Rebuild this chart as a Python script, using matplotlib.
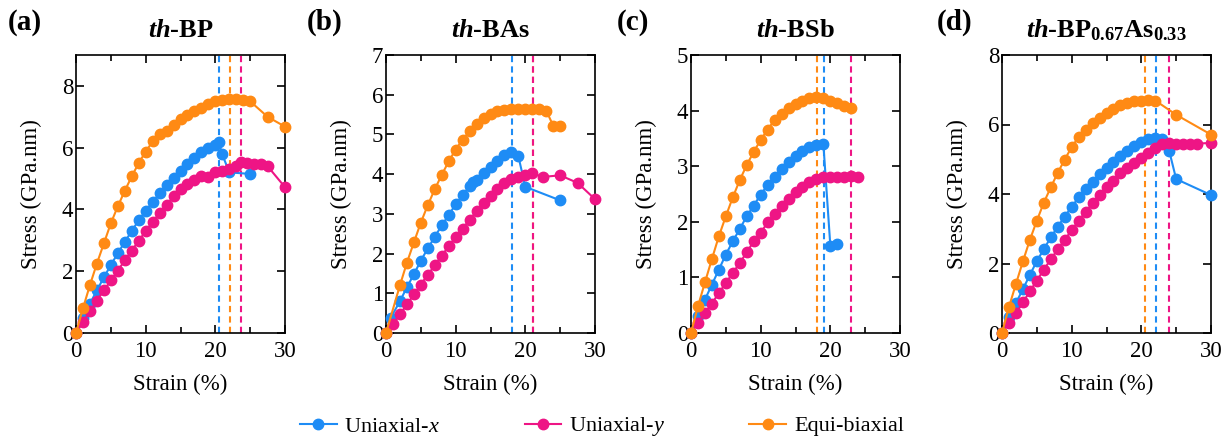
import matplotlib
matplotlib.use("Agg")
import matplotlib.pyplot as plt
from matplotlib.ticker import MultipleLocator

SERIF = 'Liberation Serif'
plt.rcParams['font.family'] = 'serif'
plt.rcParams['font.serif'] = [SERIF, 'DejaVu Serif']
plt.rcParams['mathtext.fontset'] = 'custom'
plt.rcParams['mathtext.rm'] = SERIF
plt.rcParams['mathtext.it'] = SERIF + ':italic'
plt.rcParams['mathtext.bf'] = SERIF + ':bold'
plt.rcParams['mathtext.bfit'] = SERIF + ':italic:bold'

blue = '#1E8CF5'
pink = '#EE1585'
orange = '#FF8A14'

# ---- (a) th-BP ----
a_x_x = [0, 1, 2, 3, 4, 5, 6, 7, 8, 9, 10, 11, 12, 13, 14, 15, 16, 17, 18, 19, 20, 20.5, 21, 22, 25]
a_x_y = [0, 0.5, 0.95, 1.38, 1.8, 2.2, 2.58, 2.95, 3.3, 3.65, 3.95, 4.25, 4.52, 4.78, 5.02, 5.25, 5.47,
         5.67, 5.85, 6.0, 6.1, 6.17, 5.78, 5.2, 5.15]
a_y_x = [0, 1, 2, 3, 4, 5, 6, 7, 8, 9, 10, 11, 12, 13, 14, 15, 16, 17, 18, 19, 20, 21, 22, 23, 23.7,
         24.5, 25.5, 26.5, 27.5, 30]
a_y_y = [0, 0.35, 0.7, 1.05, 1.38, 1.7, 2.02, 2.35, 2.67, 2.98, 3.3, 3.6, 3.88, 4.15, 4.42, 4.65, 4.82,
         4.95, 5.08, 5.05, 5.2, 5.25, 5.3, 5.42, 5.52, 5.5, 5.48, 5.47, 5.4, 4.72]
a_b_x = [0, 1, 2, 3, 4, 5, 6, 7, 8, 9, 10, 11, 12, 13, 14, 15, 16, 17, 18, 19, 20, 21, 22, 23, 24, 25,
         27.5, 30]
a_b_y = [0, 0.8, 1.55, 2.25, 2.9, 3.55, 4.1, 4.6, 5.07, 5.5, 5.87, 6.2, 6.45, 6.55, 6.75, 6.92, 7.05,
         7.18, 7.3, 7.4, 7.5, 7.55, 7.58, 7.58, 7.55, 7.5, 7.0, 6.68]
a_crit = [20.5, 23.7, 22.1]

# ---- (b) th-BAs ----
b_x_x = [0, 0.7, 2, 3, 4, 5, 6, 7, 8, 9, 10, 11, 12, 12.5, 13, 14, 15, 16, 17, 18, 19, 20, 25]
b_x_y = [0, 0.39, 0.8, 1.15, 1.48, 1.82, 2.13, 2.42, 2.71, 2.97, 3.24, 3.47, 3.7, 3.8, 3.86, 4.03,
         4.18, 4.33, 4.47, 4.57, 4.45, 3.68, 3.34]
b_y_x = [0, 1, 2, 3, 4, 5, 6, 7, 8, 9, 10, 11, 12, 13, 14, 15, 16, 17, 18, 19, 20, 21, 22.5, 25,
         27.5, 30]
b_y_y = [0, 0.22, 0.47, 0.72, 0.97, 1.22, 1.47, 1.7, 1.95, 2.18, 2.42, 2.63, 2.85, 3.07, 3.27, 3.45,
         3.62, 3.77, 3.88, 3.93, 3.98, 4.02, 3.93, 3.97, 3.78, 3.37]
b_b_x = [0, 2, 3, 4, 5, 6, 7, 8, 9, 10, 11, 12, 13, 14, 15, 16, 17, 18, 19, 20, 21, 22, 23, 24, 25]
b_b_y = [0, 1.2, 1.77, 2.28, 2.78, 3.22, 3.62, 3.98, 4.32, 4.62, 4.87, 5.08, 5.27, 5.42, 5.52, 5.58,
         5.62, 5.65, 5.63, 5.64, 5.65, 5.64, 5.6, 5.22, 5.2]
b_crit = [18.1, 21.1, 21.1]

# ---- (c) th-BSb ----
c_x_x = [0, 1, 2, 3, 4, 5, 6, 7, 8, 9, 10, 11, 12, 13, 14, 15, 16, 17, 18, 19, 20, 21]
c_x_y = [0, 0.3, 0.6, 0.87, 1.14, 1.41, 1.65, 1.87, 2.1, 2.29, 2.49, 2.66, 2.81, 2.95, 3.07, 3.19,
         3.28, 3.35, 3.38, 3.4, 1.57, 1.6]
c_y_x = [0, 1, 2, 3, 4, 5, 6, 7, 8, 9, 10, 11, 12, 13, 14, 15, 16, 17, 18, 19, 20, 21, 22, 23, 24]
c_y_y = [0, 0.18, 0.36, 0.53, 0.72, 0.9, 1.08, 1.26, 1.45, 1.65, 1.8, 1.99, 2.14, 2.29, 2.41, 2.54,
         2.62, 2.71, 2.77, 2.81, 2.81, 2.81, 2.81, 2.83, 2.81]
c_b_x = [0, 1, 2, 3, 4, 5, 6, 7, 8, 9, 10, 11, 12, 13, 14, 15, 16, 17, 18, 19, 20, 21, 22, 23]
c_b_y = [0, 0.48, 0.91, 1.33, 1.74, 2.1, 2.44, 2.75, 3.02, 3.26, 3.47, 3.66, 3.83, 3.94, 4.04, 4.12,
         4.18, 4.22, 4.24, 4.22, 4.18, 4.14, 4.09, 4.04]
c_crit = [19.1, 22.9, 18.1]

# ---- (d) th-BP0.67As0.33 ----
d_x_x = [0, 1, 2, 3, 4, 5, 6, 7, 8, 9, 10, 11, 12, 13, 14, 15, 16, 17, 18, 19, 20, 21, 22, 23, 24,
         25, 30]
d_x_y = [0, 0.45, 0.86, 1.26, 1.67, 2.07, 2.41, 2.75, 3.06, 3.35, 3.63, 3.9, 4.13, 4.35, 4.57, 4.76,
         4.92, 5.08, 5.24, 5.37, 5.5, 5.59, 5.62, 5.59, 5.24, 4.43, 3.97]
d_y_x = [0, 1, 2, 3, 4, 5, 6, 7, 8, 9, 10, 11, 12, 13, 14, 15, 16, 17, 18, 19, 20, 21, 22, 23, 24,
         25, 26, 27, 28, 30]
d_y_y = [0, 0.28, 0.57, 0.88, 1.2, 1.51, 1.82, 2.12, 2.41, 2.68, 2.96, 3.23, 3.49, 3.73, 3.97, 4.19,
         4.38, 4.59, 4.76, 4.89, 5.05, 5.18, 5.31, 5.43, 5.47, 5.43, 5.43, 5.45, 5.45, 5.47]
d_b_x = [0, 1, 2, 3, 4, 5, 6, 7, 8, 9, 10, 11, 12, 13, 14, 15, 16, 17, 18, 19, 20, 21, 22, 25, 30]
d_b_y = [0, 0.75, 1.41, 2.06, 2.68, 3.23, 3.75, 4.19, 4.61, 4.99, 5.35, 5.64, 5.85, 6.04, 6.2, 6.33,
         6.45, 6.55, 6.62, 6.67, 6.69, 6.71, 6.69, 6.28, 5.71]
d_crit = [22.1, 24.0, 20.5]

titles = [r'$\mathbfit{th}$-BP', r'$\mathbfit{th}$-BAs', r'$\mathbfit{th}$-BSb',
          r'$\mathbfit{th}$-BP$_{\mathbf{0.67}}$As$_{\mathbf{0.33}}$']
letters = ['(a)', '(b)', '(c)', '(d)']
ymax = [9, 7, 5, 8]
ystep = [2, 1, 1, 2]
panels = [
    [(a_x_x, a_x_y), (a_y_x, a_y_y), (a_b_x, a_b_y), a_crit],
    [(b_x_x, b_x_y), (b_y_x, b_y_y), (b_b_x, b_b_y), b_crit],
    [(c_x_x, c_x_y), (c_y_x, c_y_y), (c_b_x, c_b_y), c_crit],
    [(d_x_x, d_x_y), (d_y_x, d_y_y), (d_b_x, d_b_y), d_crit],
]
names = [r'Uniaxial-$x$', r'Uniaxial-$y$', 'Equi-biaxial']
colors = [blue, pink, orange]

fig = plt.figure(figsize=(12.32, 4.38), dpi=100)
lefts = [76, 386, 691, 1002]
letter_x = [8, 307, 617, 937]
handles = []
for i in range(4):
    ax = fig.add_axes([lefts[i] / 1232, 1 - 333 / 438, 209 / 1232, 278 / 438])
    data = panels[i]
    # vertical dashed lines at failure strain (orange under pink)
    for k in [0, 2, 1]:
        ax.axvline(data[3][k], color=colors[k], ls=(0, (3, 2)), lw=1.5, zorder=1)
    for k in range(3):
        xs, ys = data[k]
        h, = ax.plot(xs, ys, '-o', color=colors[k], lw=1.5, ms=7.5, clip_on=False, zorder=3 + k,
                     label=names[k])
        if i == 0:
            handles.append(h)
    ax.set_xlim(0, 30)
    ax.set_ylim(0, ymax[i])
    ax.xaxis.set_major_locator(MultipleLocator(10))
    ax.xaxis.set_minor_locator(MultipleLocator(5))
    ax.yaxis.set_major_locator(MultipleLocator(ystep[i]))
    ax.tick_params(which='both', direction='in', top=True, right=True, labelsize=16.5, width=1.2)
    ax.tick_params(which='major', length=6)
    ax.tick_params(which='minor', length=4)
    ax.tick_params(axis='y', pad=2)
    ax.tick_params(axis='x', pad=6)
    for lab in ax.get_xticklabels() + ax.get_yticklabels():
        lab.set_fontfamily(SERIF)
    for s in ax.spines.values():
        s.set_linewidth(1.2)
    ax.set_xlabel('Strain (%)', fontsize=16.5, labelpad=8, fontfamily=SERIF)
    ax.set_ylabel('Stress (GPa.nm)', fontsize=16.5, fontfamily=SERIF)
    ax.yaxis.set_label_coords(-34 / 209, 0.5)
    ax.set_title(titles[i], fontsize=19, fontweight='bold', pad=13, fontfamily=SERIF)
    fig.text(letter_x[i] / 1232, 1 - 22 / 438, letters[i], fontsize=21, fontweight='bold',
             va='center', ha='left', fontfamily=SERIF)

fig.legend(handles=handles, loc='center left', bbox_to_anchor=(300 / 1232, 1 - 427 / 438), ncol=3,
           frameon=False, columnspacing=3.8, handlelength=1.65, handletextpad=0.35,
           borderpad=0, borderaxespad=0, prop={'family': SERIF, 'size': 16})

fig.savefig('out.png', dpi=100)
